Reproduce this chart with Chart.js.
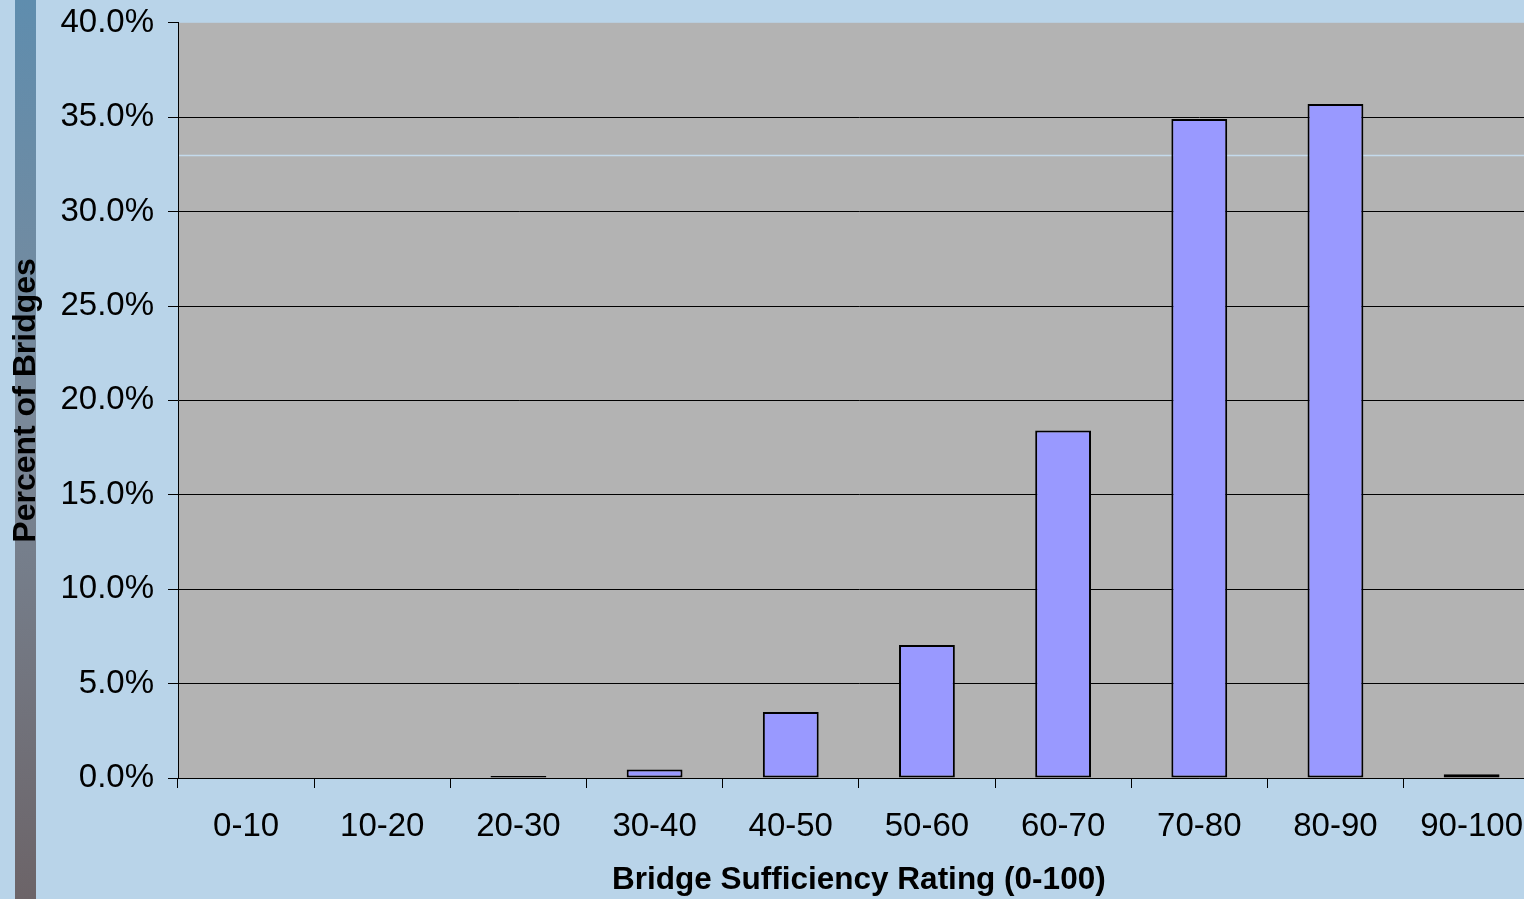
<!DOCTYPE html>
<html>
<head>
<meta charset="utf-8">
<script src="https://cdn.jsdelivr.net/npm/chart.js@4/dist/chart.umd.min.js"></script>
<style>
  html, body { margin: 0; padding: 0; background: #B9D4E9; overflow: hidden; width: 1524px; height: 899px; }
  /* the chart panel runs slightly past the top and right edges of the slide */
  #wrap { position: absolute; left: 0; top: -11px; width: 1542px; height: 910px; }
</style>
</head>
<body>
<div id="wrap"><canvas id="c"></canvas></div>
<script>
// Share of bridges in each sufficiency-rating band (percent)
const categories = ['0-10', '10-20', '20-30', '30-40', '40-50', '50-60', '60-70', '70-80', '80-90', '90-100'];
const percentBridges = [0, 0, 0.1, 0.45, 3.5, 7.05, 18.4, 34.9, 35.7, 0.2];
const yMin = 0;
const yMax = 40;
const yStep = 5;
const xTitle = 'Bridge Sufficiency Rating (0-100)';
const yTitle = 'Percent of Bridges';

const FONT = "'Liberation Sans', Arial, sans-serif";
const WRAP_TOP = 11; // canvas is shifted up by this many pixels

// Slide backdrop: left accent stripe, grey plot panel and a faint rule
const backdrop = {
  id: 'backdrop',
  beforeDraw(chart) {
    const { ctx, chartArea: a, height } = chart;
    ctx.save();
    const g = ctx.createLinearGradient(0, WRAP_TOP, 0, height);
    g.addColorStop(0, '#5F8DAE');
    g.addColorStop(0.45, '#7A8A9B');
    g.addColorStop(1, '#6C6468');
    ctx.fillStyle = g;
    ctx.fillRect(15, 0, 21, height);
    ctx.fillStyle = '#B3B3B3';
    ctx.fillRect(a.left, a.top, a.right - a.left, a.bottom - a.top);
    ctx.restore();
  },
  beforeDatasetsDraw(chart) {
    const { ctx, chartArea: a } = chart;
    const y = WRAP_TOP + 155.5;
    ctx.save();
    ctx.strokeStyle = '#C4DAEC';
    ctx.lineWidth = 1.5;
    ctx.beginPath();
    ctx.moveTo(a.left + 1, y);
    ctx.lineTo(a.right, y);
    ctx.stroke();
    ctx.restore();
  }
};

new Chart(document.getElementById('c'), {
  type: 'bar',
  data: {
    labels: categories,
    datasets: [{
      data: percentBridges,
      backgroundColor: '#9999FF',
      borderColor: '#000000',
      borderWidth: (c) => (c.raw > 0 ? 2 : 0),
      borderSkipped: false,
      barPercentage: 0.41,
      categoryPercentage: 1.0
    }]
  },
  options: {
    responsive: true,
    maintainAspectRatio: false,
    animation: false,
    layout: { padding: { top: 14, right: 0, left: 0, bottom: 0 } },
    plugins: {
      legend: { display: false },
      tooltip: { enabled: false }
    },
    scales: {
      x: {
        offset: true,
        grid: {
          display: true,
          drawOnChartArea: false,
          drawTicks: true,
          tickLength: 10,
          color: '#000000',
          offset: true
        },
        border: { display: true, color: '#000000', width: 1 },
        ticks: {
          color: '#000000',
          font: { family: FONT, size: 33 },
          padding: 19,
          maxRotation: 0,
          autoSkip: false
        },
        title: {
          display: true,
          text: xTitle,
          color: '#000000',
          font: { family: FONT, size: 31.5, weight: 'bold' },
          padding: { top: 4, bottom: 0 }
        },
        afterFit(scale) { scale.height = 121; }
      },
      y: {
        min: yMin,
        max: yMax,
        ticks: {
          stepSize: yStep,
          color: '#000000',
          font: { family: FONT, size: 33 },
          padding: 14,
          callback: (v) => v.toFixed(1) + '%'
        },
        grid: {
          color: (c) => (c.tick && c.tick.value === yMax ? 'rgba(0,0,0,0)' : '#000000'),
          tickColor: '#000000',
          tickLength: 10,
          lineWidth: 1
        },
        border: { display: true, color: '#000000', width: 1 },
        title: {
          display: true,
          text: yTitle,
          color: '#000000',
          font: { family: FONT, size: 32, weight: 'bold' },
          padding: { top: 7, bottom: 0 }
        },
        afterFit(scale) { scale.width = 178; }
      }
    }
  },
  plugins: [backdrop]
});
</script>
</body>
</html>
